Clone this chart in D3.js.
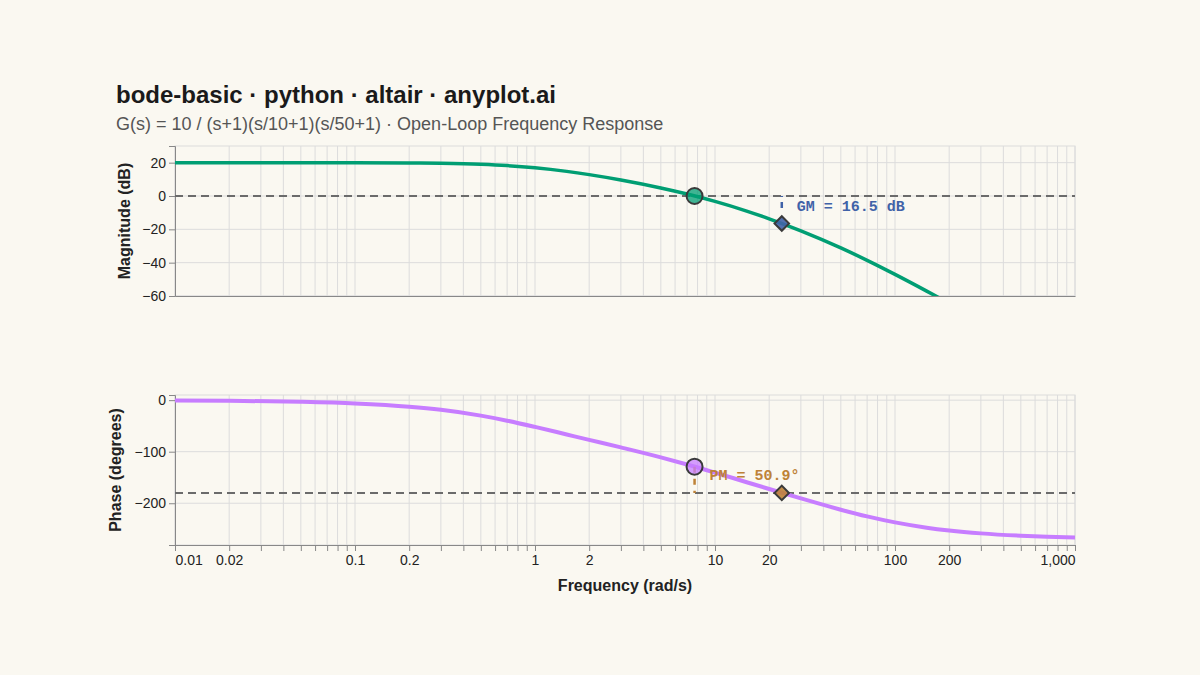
<!DOCTYPE html>
<html>
<head>
<meta charset="utf-8">
<script src="https://cdn.jsdelivr.net/npm/d3@7"></script>
<style>
  html, body { margin: 0; padding: 0; background: #FAF8F1; }
  svg { display: block; font-family: "Liberation Sans", Arial, sans-serif; }
</style>
</head>
<body>
<svg id="chart" width="1200" height="675"></svg>
<script>
// ---- data ----
const freq = [0.01, 0.02, 0.05, 0.1, 0.2, 0.3, 0.5, 0.7, 1, 1.5, 2, 3, 5, 7, 10, 15, 20, 30, 50, 70, 100, 150, 200, 300, 500, 700, 1000];
const magnitudeDb = [20.00, 20.00, 19.99, 19.96, 19.83, 19.62, 19.02, 18.25, 16.95, 14.78, 12.83, 9.61, 4.84, 1.19, -3.22, -9.03, -13.67, -20.89, -31.14, -38.60, -47.03, -57.06, -64.35, -74.77, -88.0, -96.74, -106.03];
const phaseDeg = [-0.64, -1.28, -3.21, -6.40, -12.69, -18.76, -30.00, -39.80, -51.86, -66.56, -77.03, -91.70, -110.97, -124.83, -140.60, -159.20, -172.37, -190.62, -212.54, -225.51, -237.15, -247.38, -252.81, -258.44, -263.03, -265.01, -266.51];

const xTickLabels = [0.01, 0.02, 0.1, 0.2, 1, 2, 10, 20, 100, 200, 1000];
const magTicks = [20, 0, -20, -40, -60];
const phaseTicks = [0, -100, -200];

const gainCrossover = { freq: 7.7, mag: 0, phase: -129.1 };
const phaseCrossover = { freq: 23.5, mag: -16.5, phase: -180 };
const gmLabel = "GM = 16.5 dB";
const pmLabel = "PM = 50.9°";

const titleText = "bode-basic · python · altair · anyplot.ai";
const subtitleText = "G(s) = 10 / (s+1)(s/10+1)(s/50+1) · Open-Loop Frequency Response";

// ---- styling ----
const C = {
  bg: "#FAF8F1", grid: "#dcdcdc", axis: "#888888", text: "#222222",
  mag: "#009E73", phase: "#C77DFF", gm: "#4062A8", pm: "#BE8237",
  ref: "#6b6b6b", marker: "#3a3a3a"
};
const SANS = "'Liberation Sans', Arial, sans-serif";
const MONO = "'Liberation Mono', 'DejaVu Sans Mono', monospace";

const svg = d3.select("#chart");
svg.append("rect").attr("width", 1200).attr("height", 675).attr("fill", C.bg);

const left = 175, right = 1075;
const x = d3.scaleLog().domain([0.01, 1000]).range([left, right]);
const yMag = d3.scaleLinear().domain([-60, 30]).range([296, 146]);
const yPh = d3.scaleLinear().domain([-281, 10]).range([545, 395]);

// minor (1..9 per decade) tick values
const allTicks = [];
for (let d = -2; d <= 2; d++) for (let k = 1; k <= 9; k++) allTicks.push(+(k * Math.pow(10, d)).toPrecision(3));
allTicks.push(1000);

const rows = freq.map((f, i) => ({ f, m: magnitudeDb[i], p: phaseDeg[i] }));

// titles
svg.append("text").attr("x", 116).attr("y", 103).style("font-family", SANS).style("font-size", "24px")
  .style("font-weight", "bold").attr("fill", "#1a1a1a").text(titleText);
svg.append("text").attr("x", 116).attr("y", 130).style("font-family", SANS).style("font-size", "18px")
  .attr("fill", "#555555").text(subtitleText);

function panel(y, ticks, values, color, width, clipId, refVal, axisTitle, titleX, showX) {
  const [y0, y1] = y.range(); // bottom, top
  const g = svg.append("g");
  g.append("rect").attr("x", left).attr("y", y1).attr("width", right - left).attr("height", y0 - y1)
    .attr("fill", "none").attr("stroke", C.grid).attr("stroke-width", 1);
  g.selectAll(".vg").data(allTicks).join("line")
    .attr("x1", d => x(d)).attr("x2", d => x(d)).attr("y1", y1).attr("y2", y0)
    .attr("stroke", C.grid).attr("stroke-width", 1);
  g.selectAll(".hg").data(ticks).join("line")
    .attr("x1", left).attr("x2", right).attr("y1", d => y(d)).attr("y2", d => y(d))
    .attr("stroke", C.grid).attr("stroke-width", 1);
  const yAxis = d3.axisLeft(y).tickValues(ticks).tickSize(6).tickPadding(3).tickFormat(d3.format(""));
  const ya = g.append("g").attr("transform", `translate(${left},0)`).call(yAxis);
  ya.select(".domain").attr("stroke", C.axis);
  ya.selectAll(".tick line").attr("stroke", C.axis);
  ya.selectAll(".tick text").style("font-size", "14px").attr("fill", C.text).style("font-family", SANS);
  g.append("text").attr("transform", `translate(${titleX},${(y0 + y1) / 2}) rotate(-90)`)
    .attr("text-anchor", "middle").style("font-size", "16px").style("font-weight", "bold")
    .style("font-family", SANS).attr("fill", C.text).text(axisTitle);
  const xa = g.append("g").attr("transform", `translate(0,${y0})`);
  if (showX) {
    xa.call(d3.axisBottom(x).tickValues(allTicks).tickSize(6).tickPadding(4)
      .tickFormat(d => xTickLabels.includes(d) ? d3.format(",")(d) : ""));
    xa.selectAll(".tick line").attr("stroke", C.axis);
    xa.selectAll(".tick text").style("font-size", "14px").attr("fill", C.text).style("font-family", SANS)
      .attr("text-anchor", d => d === 0.01 ? "start" : d === 1000 ? "end" : "middle");
  } else {
    xa.call(d3.axisBottom(x).tickValues([]).tickSize(0));
  }
  xa.select(".domain").attr("stroke", C.axis);
  g.append("line").attr("x1", left).attr("x2", right).attr("y1", y(refVal)).attr("y2", y(refVal))
    .attr("stroke", C.ref).attr("stroke-width", 2).attr("stroke-dasharray", "8,5");
  svg.append("clipPath").attr("id", clipId).append("rect")
    .attr("x", left).attr("y", y1).attr("width", right - left).attr("height", y0 - y1);
  const line = d3.line().x(d => x(d.f)).y(d => y(d[values])).curve(d3.curveMonotoneX);
  g.append("path").datum(rows).attr("d", line).attr("fill", "none")
    .attr("stroke", color).attr("stroke-width", width).attr("clip-path", `url(#${clipId})`);
  return g;
}

const gMag = panel(yMag, magTicks, "m", C.mag, 3.5, "clipMag", 0, "Magnitude (dB)", 130, false);
const gPh = panel(yPh, phaseTicks, "p", C.phase, 4, "clipPh", -180, "Phase (degrees)", 121, true);

svg.append("text").attr("x", (left + right) / 2).attr("y", 591).attr("text-anchor", "middle")
  .style("font-size", "16px").style("font-weight", "bold").style("font-family", SANS)
  .attr("fill", C.text).text("Frequency (rad/s)");

// annotation rules
gMag.append("line")
  .attr("x1", x(phaseCrossover.freq)).attr("x2", x(phaseCrossover.freq))
  .attr("y1", yMag(0)).attr("y2", yMag(phaseCrossover.mag))
  .attr("stroke", C.gm).attr("stroke-width", 2.5).attr("stroke-dasharray", "1,5,6,20");
gPh.append("line")
  .attr("x1", x(gainCrossover.freq)).attr("x2", x(gainCrossover.freq))
  .attr("y1", yPh(gainCrossover.phase)).attr("y2", yPh(-180))
  .attr("stroke", C.pm).attr("stroke-width", 2.5).attr("stroke-dasharray", "6,6");

// markers
function circleAt(g, cx, cy, fill) {
  g.append("circle").attr("cx", cx).attr("cy", cy).attr("r", 8)
    .attr("fill", fill).attr("fill-opacity", 0.75).attr("stroke", C.marker).attr("stroke-width", 2);
}
function diamondAt(g, cx, cy, fill) {
  g.append("path").attr("d", d3.symbol().type(d3.symbolSquare).size(105)())
    .attr("transform", `translate(${cx},${cy}) rotate(45)`)
    .attr("fill", fill).attr("fill-opacity", 0.9).attr("stroke", C.marker).attr("stroke-width", 2);
}
circleAt(gMag, x(gainCrossover.freq), yMag(gainCrossover.mag), C.mag);
diamondAt(gMag, x(phaseCrossover.freq), yMag(phaseCrossover.mag), C.gm);
circleAt(gPh, x(gainCrossover.freq), yPh(gainCrossover.phase), C.phase);
diamondAt(gPh, x(phaseCrossover.freq), yPh(phaseCrossover.phase), C.pm);

// labels
svg.append("text").attr("x", x(phaseCrossover.freq) + 15).attr("y", 211)
  .style("font-family", MONO).style("font-size", "15px").style("font-weight", "bold")
  .attr("fill", C.gm).text(gmLabel);
svg.append("text").attr("x", x(gainCrossover.freq) + 15).attr("y", 480)
  .style("font-family", MONO).style("font-size", "15px").style("font-weight", "bold")
  .attr("fill", C.pm).text(pmLabel);
</script>
</body>
</html>
